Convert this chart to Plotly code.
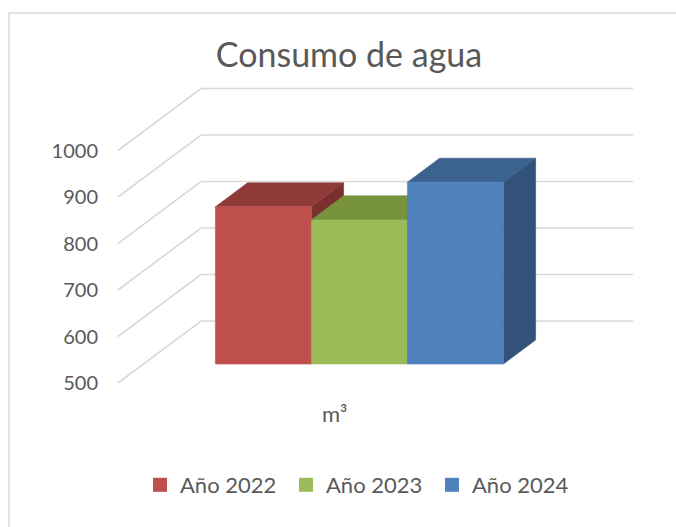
import plotly.graph_objects as go

# ---- data ----
series_names = ["Año 2022", "Año 2023", "Año 2024"]
series_values = [838, 810, 891]
category_label = "m³"
tick_values = [500, 600, 700, 800, 900, 1000]
chart_title = "Consumo de agua"

# ---- styles ----
front_colors = ["#C0504D", "#9BBB59", "#4F81BD"]
top_colors = ["#8F3A38", "#77933C", "#3C628F"]
side_colors = ["#7A302E", "#627A34", "#325279"]
grid_color = "#D9D9D9"
text_color = "#595959"
FONT = "Lato"

# ---- projection / layout constants ----
W, H = 676, 527
PX_PER_UNIT = 0.465          # vertical pixels per value unit
FRONT_FLOOR_PX = 383         # pixel row of the floor's front edge (value 500)
V_MIN = tick_values[0]
V_TOP = V_MIN + FRONT_FLOOR_PX / PX_PER_UNIT
V_BOT = V_TOP - H / PX_PER_UNIT

FLOOR_X0 = 118               # front-left corner of the floor (x units = px)
FLOOR_W = 432
DEPTH_DX = 83                # oblique shift of full depth
DEPTH_DV = 62 / PX_PER_UNIT
BAR_W = 96
BAR_F0, BAR_F1 = 0.306, 0.694

fig = go.Figure()

# gridlines: side wall + back wall
for t in tick_values:
    xs = [FLOOR_X0, FLOOR_X0 + DEPTH_DX, FLOOR_X0 + DEPTH_DX + FLOOR_W]
    ys = [t, t + DEPTH_DV, t + DEPTH_DV]
    fig.add_trace(go.Scatter(x=xs, y=ys, mode="lines",
                             line=dict(color=grid_color, width=1.6),
                             hoverinfo="skip", showlegend=False))

n = len(series_values)
start = FLOOR_X0 + (FLOOR_W - n * BAR_W) / 2
ddx = DEPTH_DX * (BAR_F1 - BAR_F0)
ddv = DEPTH_DV * (BAR_F1 - BAR_F0)
for i, (name, v) in enumerate(zip(series_names, series_values)):
    x0 = start + i * BAR_W + DEPTH_DX * BAR_F0
    x1 = x0 + BAR_W
    b = V_MIN + DEPTH_DV * BAR_F0
    top = v + DEPTH_DV * BAR_F0
    faces = [
        ([x1, x1, x1 + ddx, x1 + ddx, x1], [b, top, top + ddv, b + ddv, b], side_colors[i]),
        ([x0, x1, x1 + ddx, x0 + ddx, x0], [top, top, top + ddv, top + ddv, top], top_colors[i]),
        ([x0, x1, x1, x0, x0], [b, b, top, top, b], front_colors[i]),
    ]
    for xs, ys, col in faces:
        fig.add_trace(go.Scatter(x=xs, y=ys, mode="lines", fill="toself",
                                 fillcolor=col, line=dict(color=col, width=0.6),
                                 hoverinfo="skip", showlegend=False))

# legend entries
for name, col in zip(series_names, front_colors):
    fig.add_trace(go.Scatter(x=[None], y=[None], mode="markers", name=name,
                             marker=dict(symbol="square", size=14, color=col)))

# category label
fig.add_annotation(x=FLOOR_X0 + FLOOR_W / 2, y=V_MIN, text=category_label,
                   showarrow=False, yshift=-30,
                   font=dict(family=FONT, size=22, color=text_color))

# chart border
fig.add_shape(type="rect", xref="paper", yref="paper",
              x0=9 / W, x1=1.2, y0=-0.2, y1=1 - 13 / H,
              line=dict(color=grid_color, width=1.5))

fig.update_layout(
    width=W, height=H,
    margin=dict(l=0, r=0, t=0, b=0),
    paper_bgcolor="white", plot_bgcolor="rgba(0,0,0,0)",
    title=dict(text=chart_title, x=349 / W, xanchor="center",
               y=1 - 55 / H, yanchor="middle",
               font=dict(family=FONT, size=34, color=text_color)),
    xaxis=dict(range=[0, W], visible=False, domain=[0, 1], fixedrange=True),
    yaxis=dict(range=[V_BOT, V_TOP], anchor="free", position=98 / W,
               tickvals=tick_values, showgrid=False, zeroline=False,
               showline=False, ticks="", fixedrange=True,
               tickfont=dict(family=FONT, size=20, color=text_color)),
    showlegend=True,
    legend=dict(orientation="h", x=359 / W, xanchor="center",
                y=1 - 485 / H, yanchor="middle",
                entrywidth=101, entrywidthmode="pixels",
                font=dict(family=FONT, size=22, color=text_color),
                bgcolor="rgba(0,0,0,0)"),
)

fig.write_html("out.html", config={"displayModeBar": False},
               post_script="document.body.style.margin='0px';")
